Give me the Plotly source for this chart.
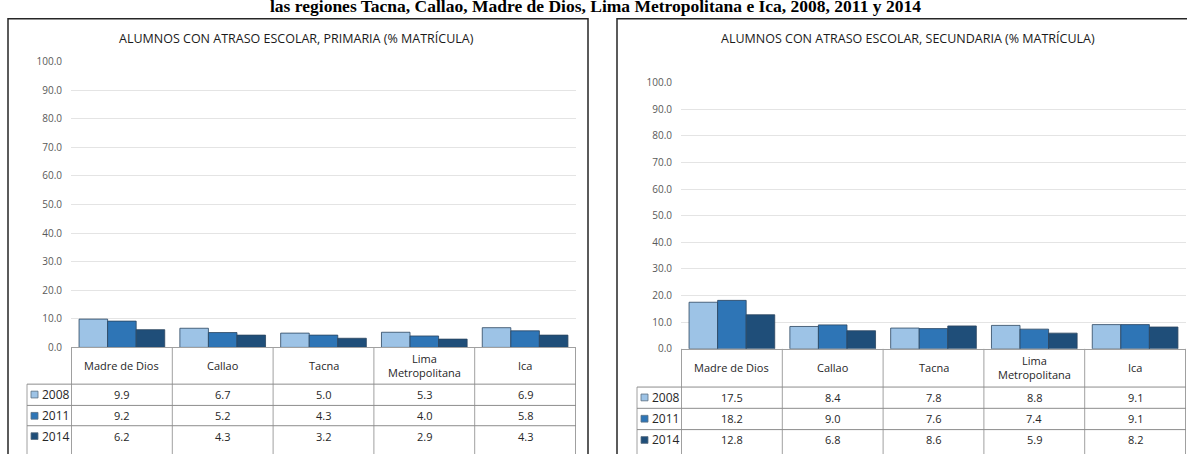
import plotly.graph_objects as go

# ---- data ----
categories = ["Madre de Dios", "Callao", "Tacna", "Lima Metropolitana", "Ica"]
category_labels = ["Madre de Dios", "Callao", "Tacna", "Lima<br>Metropolitana", "Ica"]
years = ["2008", "2011", "2014"]

primaria_2008 = [9.9, 6.7, 5.0, 5.3, 6.9]
primaria_2011 = [9.2, 5.2, 4.3, 4.0, 5.8]
primaria_2014 = [6.2, 4.3, 3.2, 2.9, 4.3]

secundaria_2008 = [17.5, 8.4, 7.8, 8.8, 9.1]
secundaria_2011 = [18.2, 9.0, 7.6, 7.4, 9.1]
secundaria_2014 = [12.8, 6.8, 8.6, 5.9, 8.2]

y_ticks = [0, 10, 20, 30, 40, 50, 60, 70, 80, 90, 100]

title_primaria = "ALUMNOS CON ATRASO ESCOLAR, PRIMARIA (% MATRÍCULA)"
title_secundaria = "ALUMNOS CON ATRASO ESCOLAR, SECUNDARIA (% MATRÍCULA)"
page_title = "las regiones Tacna, Callao, Madre de Dios, Lima Metropolitana e Ica, 2008, 2011 y 2014"

# ---- styling ----
W, H = 1187, 454
COLORS = ["#9DC3E6", "#2E75B6", "#1F4E79"]
BAR_LINE = "#2B4560"
GRID = "#E4E4E4"
TABLE_LINE = "#A0A0A0"
FONT = "Open Sans, sans-serif"


def px(x):
    return x / W


def py(y):
    return 1 - y / H


# panel geometry in pixels
panels = [
    dict(xa="x", ya="y", series=[primaria_2008, primaria_2011, primaria_2014],
         title=title_primaria, title_x=297, plot_x=(71, 576), plot_y=(351, 55.5),
         legend_x=27, header_bottom=389, row_lines=[389, 411, 432],
         box=(8, 588)),
    dict(xa="x2", ya="y2", series=[secundaria_2008, secundaria_2011, secundaria_2014],
         title=title_secundaria, title_x=908, plot_x=(681, 1186), plot_y=(352.5, 77),
         legend_x=637, header_bottom=392, row_lines=[392, 414, 436],
         box=(617, 1200)),
]
ROW_H = 21.5

fig = go.Figure()
shapes = []
annotations = []

for p in panels:
    for yr, vals, col in zip(years, p["series"], COLORS):
        fig.add_trace(go.Bar(
            x=categories, y=vals, name=yr,
            xaxis=p["xa"], yaxis=p["ya"],
            marker=dict(color=col, line=dict(color=BAR_LINE, width=0.8)),
            showlegend=False,
            hovertemplate="%{x}<br>" + yr + ": %{y:.1f}<extra></extra>",
        ))

    x0, x1 = p["plot_x"]
    y0 = p["plot_y"][0]
    xref = p["xa"]
    lx = p["legend_x"]

    # panel border
    b0, b1 = p["box"]
    shapes.append(dict(type="rect", xref="paper", yref="paper",
                       x0=px(b0), x1=px(b1), y0=py(11), y1=py(470),
                       line=dict(color="#262626", width=1.5)))

    # table: vertical lines at category boundaries
    for i in range(len(categories) + 1):
        shapes.append(dict(type="line", xref=xref, yref="paper",
                           x0=i - 0.5, x1=i - 0.5, y0=py(y0), y1=py(470),
                           line=dict(color=TABLE_LINE, width=1)))
    # legend column left edge
    shapes.append(dict(type="line", xref="paper", yref="paper",
                       x0=px(lx), x1=px(lx), y0=py(p["header_bottom"]), y1=py(470),
                       line=dict(color=TABLE_LINE, width=1)))
    # horizontal row lines
    for ry in p["row_lines"]:
        shapes.append(dict(type="line", xref="paper", yref="paper",
                           x0=px(lx), x1=px(x1), y0=py(ry), y1=py(ry),
                           line=dict(color="#8C8C8C", width=1)))

    # header labels
    hb = p["header_bottom"]
    for cat, lab in zip(categories, category_labels):
        annotations.append(dict(xref=xref, yref="paper", x=cat, y=py((y0 + hb) / 2),
                                text=lab, showarrow=False, xanchor="center", yanchor="middle",
                                font=dict(family=FONT, size=11, color="#262626")))

    # rows: legend key + values
    rl = p["row_lines"]
    for r, (yr, vals, col) in enumerate(zip(years, p["series"], COLORS)):
        cy = rl[r] + ROW_H / 2
        shapes.append(dict(type="rect", xref="paper", yref="paper",
                           x0=px(lx + 4), x1=px(lx + 11), y0=py(cy + 3.5), y1=py(cy - 3.5),
                           fillcolor=col, line=dict(color="#5A6E82", width=0.8)))
        annotations.append(dict(xref="paper", yref="paper", x=px(lx + 12.5), y=py(cy),
                                text=yr, showarrow=False, xanchor="left", yanchor="middle",
                                font=dict(family=FONT, size=12, color="#262626")))
        for cat, v in zip(categories, vals):
            annotations.append(dict(xref=xref, yref="paper", x=cat, y=py(cy),
                                    text=f"{v:.1f}", showarrow=False,
                                    xanchor="center", yanchor="middle",
                                    font=dict(family=FONT, size=11, color="#262626")))

    # chart title
    annotations.append(dict(xref="paper", yref="paper", x=px(p["title_x"]), y=py(32),
                            text=p["title"], showarrow=False,
                            xanchor="center", yanchor="middle",
                            font=dict(family=FONT, size=12.5, color="#1A1A1A")))

# page title, cut off by the top edge
annotations.append(dict(xref="paper", yref="paper", x=px(596), y=py(-2),
                        text="<b>" + page_title + "</b>", showarrow=False,
                        xanchor="center", yanchor="middle",
                        font=dict(family="Liberation Serif, Times New Roman, serif", size=17.5, color="#000000")))

axis_common = dict(
    range=[0, 100], tickvals=y_ticks, tickformat=".1f",
    showgrid=True, gridcolor=GRID, gridwidth=1, zeroline=False,
    showline=False, ticks="", ticklabelstandoff=8,
    tickfont=dict(family=FONT, size=10, color="#595959"),
)
xaxis_common = dict(
    type="category", showticklabels=False, showgrid=False, ticks="",
    showline=True, linecolor=TABLE_LINE, linewidth=1, zeroline=False,
)

p0, p1 = panels
fig.update_layout(
    width=W, height=H,
    margin=dict(l=0, r=0, t=0, b=0),
    paper_bgcolor="white", plot_bgcolor="white",
    barmode="group", bargap=0.15, bargroupgap=0,
    xaxis=dict(domain=[px(p0["plot_x"][0]), px(p0["plot_x"][1])], anchor="y", **xaxis_common),
    yaxis=dict(domain=[py(p0["plot_y"][0]), py(p0["plot_y"][1])], anchor="x", **axis_common),
    xaxis2=dict(domain=[px(p1["plot_x"][0]), px(p1["plot_x"][1])], anchor="y2", **xaxis_common),
    yaxis2=dict(domain=[py(p1["plot_y"][0]), py(p1["plot_y"][1])], anchor="x2", **axis_common),
    shapes=shapes,
    annotations=annotations,
    showlegend=False,
)

# the page body has an 8px default margin; drop it so the figure sits at the window's corner
fig.write_html("out.html", config={"displayModeBar": False},
               post_script="document.body.style.margin='0';")
